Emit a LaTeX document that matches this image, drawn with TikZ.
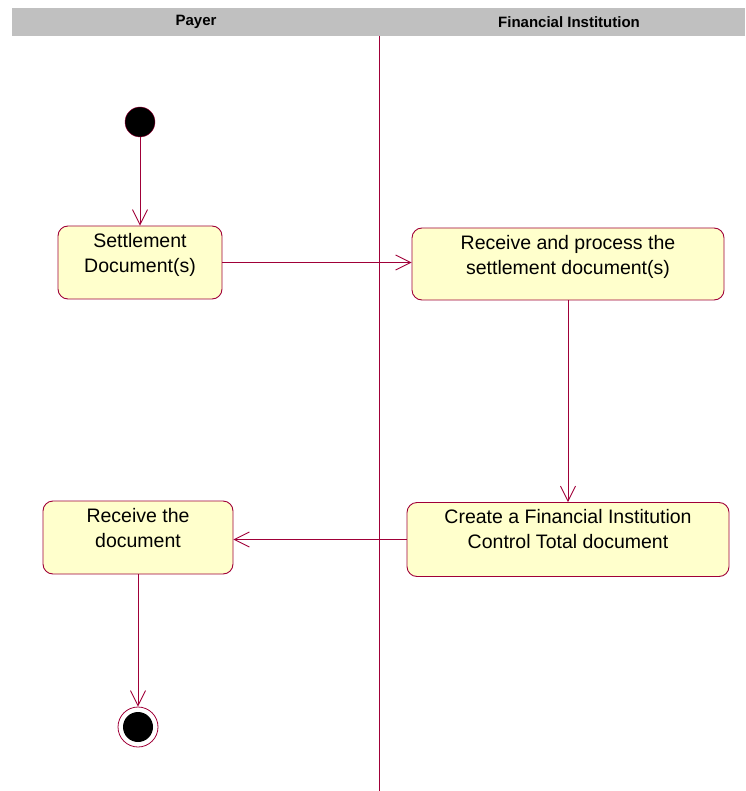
\documentclass[tikz,border=0pt]{standalone}
\usepackage{fontspec}
\setmainfont{Liberation Sans}
\usetikzlibrary{arrows.meta}
\definecolor{umlred}{HTML}{A00038}
\definecolor{umlfill}{HTML}{FFFFCC}
\definecolor{lanegray}{HTML}{C0C0C0}

\begin{document}
\begin{tikzpicture}[x=1pt,y=-1pt,
					activity/.style={draw=umlred,fill=umlfill,rounded corners=10pt,line width=0.9pt,inner sep=0pt},
					acttext/.style={anchor=north,align=center,inner sep=0pt,font=\fontsize{19.5}{25}\selectfont},
					flow/.style={draw=umlred,line width=0.9pt,-{Straight Barb[length=15pt,width=15pt,line width=0.9pt]}},
					lane/.style={font=\fontsize{15}{17}\selectfont\bfseries}]
					\useasboundingbox (0,0) rectangle (745,791);
					
					% swimlanes
					\fill[lanegray] (12,8) rectangle (745,36);
					\node[lane] (payer) at (196,22) {Payer};
					\node[lane] (bank) at (569,22) {Financial Institution};
					\draw[umlred,line width=1.1pt] (379.5,36) -- (379.5,791);
					
					% start and end
					\node[circle,draw=umlred,fill=black,minimum size=30pt,inner sep=0pt] (start) at (140,122) {};
					\node[circle,draw=umlred,line width=0.8pt,minimum size=40pt,inner sep=0pt] (end) at (138,727) {};
					\fill[black] (end.center) circle (15pt);
					
					% activities
					\node[activity,minimum width=164pt,minimum height=73pt] (sd) at (140,262.5) {};
					\node[acttext] at ([yshift=-7.5pt]sd.north) {Settlement\\Document(s)};
					
					\node[activity,minimum width=312pt,minimum height=72pt] (rp) at (568,264) {};
					\node[acttext] at ([yshift=-7.5pt]rp.north) {Receive and process the\\settlement document(s)};
					
					\node[activity,minimum width=322pt,minimum height=74pt] (ct) at (568,539.5) {};
					\node[acttext] at ([yshift=-7.5pt]ct.north) {Create a Financial Institution\\Control Total document};
					
					\node[activity,minimum width=190pt,minimum height=73pt] (rd) at (138,537.5) {};
					\node[acttext] at ([yshift=-7.5pt]rd.north) {Receive the\\document};
					
					% transitions
					\draw[flow] (start) -- (sd);
					\draw[flow] (sd.east) -- (sd.east -| rp.west);
					\draw[flow] (rp) -- (ct);
					\draw[flow] (ct.west) -- (ct.west -| rd.east);
					\draw[flow] (rd) -- (end);
				\end{tikzpicture}
\end{document}
